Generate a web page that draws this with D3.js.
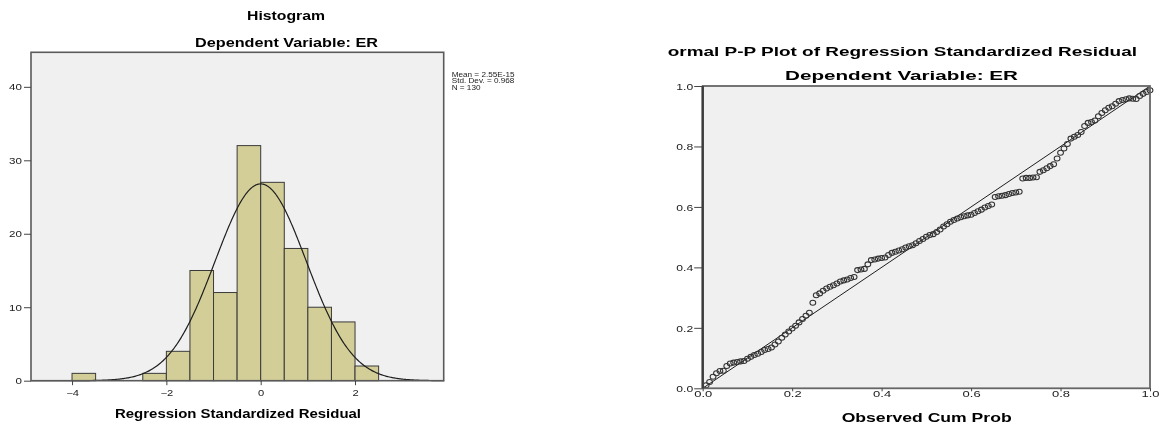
<!DOCTYPE html>
<html>
<head>
<meta charset="utf-8">
<script src="https://cdn.jsdelivr.net/npm/d3@7"></script>
<style>
  html, body { margin: 0; padding: 0; background: #fff; }
  svg { display: block; font-family: "Liberation Sans", Arial, sans-serif; will-change: transform; }
  svg text { opacity: 0.995; }
</style>
</head>
<body>
<svg id="chart" width="1160" height="430"></svg>
<script>
// ---------------- DATA ----------------
const histTitle = "Histogram";
const subTitle = "Dependent Variable: ER";
const histXLabel = "Regression Standardized Residual";
const binLow  = [-4.0, -2.5, -2.0, -1.5, -1.0, -0.5, 0.0, 0.5, 1.0, 1.5, 2.0];
const binHigh = [-3.5, -2.0, -1.5, -1.0, -0.5, 0.0, 0.5, 1.0, 1.5, 2.0, 2.5];
const binCounts = [1, 1, 4, 15, 12, 32, 27, 18, 10, 8, 2];
const histXTicks = [-4, -2, 0, 2];
const histYTicks = [0, 10, 20, 30, 40];
const statLines = ["Mean = 2.55E-15", "Std. Dev. = 0.968", "N = 130"];
const residMean = 2.55e-15, residSD = 0.968, residN = 130, binWidth = 0.5;

const ppTitle = "Normal P-P Plot of Regression Standardized Residual";
const ppXLabel = "Observed Cum Prob";
const ppTicks = [0.0, 0.2, 0.4, 0.6, 0.8, 1.0];
const observedCumProb = [
  0.0077,0.0154,0.0231,0.0308,0.0385,0.0462,0.0538,0.0615,0.0692,0.0769,
  0.0846,0.0923,0.1000,0.1077,0.1154,0.1231,0.1308,0.1385,0.1462,0.1538,
  0.1615,0.1692,0.1769,0.1846,0.1923,0.2000,0.2077,0.2154,0.2231,0.2308,
  0.2385,0.2462,0.2538,0.2615,0.2692,0.2769,0.2846,0.2923,0.3000,0.3077,
  0.3154,0.3231,0.3308,0.3385,0.3462,0.3538,0.3615,0.3692,0.3769,0.3846,
  0.3923,0.4000,0.4077,0.4154,0.4231,0.4308,0.4385,0.4462,0.4538,0.4615,
  0.4692,0.4769,0.4846,0.4923,0.5000,0.5077,0.5154,0.5231,0.5308,0.5385,
  0.5462,0.5538,0.5615,0.5692,0.5769,0.5846,0.5923,0.6000,0.6077,0.6154,
  0.6231,0.6308,0.6385,0.6462,0.6538,0.6615,0.6692,0.6769,0.6846,0.6923,
  0.7000,0.7077,0.7154,0.7231,0.7308,0.7385,0.7462,0.7538,0.7615,0.7692,
  0.7769,0.7846,0.7923,0.8000,0.8077,0.8154,0.8231,0.8308,0.8385,0.8462,
  0.8538,0.8615,0.8692,0.8769,0.8846,0.8923,0.9000,0.9077,0.9154,0.9231,
  0.9308,0.9385,0.9462,0.9538,0.9615,0.9692,0.9769,0.9846,0.9923,1.0000
];
const expectedCumProb = [
  0.010,0.021,0.038,0.050,0.057,0.058,0.074,0.082,0.085,0.087,
  0.089,0.090,0.098,0.104,0.110,0.114,0.120,0.127,0.130,0.135,
  0.145,0.155,0.167,0.178,0.188,0.198,0.207,0.218,0.229,0.240,
  0.250,0.283,0.308,0.314,0.323,0.330,0.336,0.341,0.347,0.353,
  0.357,0.360,0.365,0.368,0.391,0.393,0.395,0.410,0.424,0.426,
  0.429,0.431,0.433,0.441,0.448,0.452,0.456,0.460,0.466,0.470,
  0.473,0.480,0.487,0.494,0.501,0.507,0.510,0.517,0.525,0.535,
  0.543,0.551,0.557,0.562,0.566,0.569,0.572,0.574,0.580,0.586,
  0.591,0.598,0.603,0.608,0.633,0.635,0.637,0.639,0.643,0.646,
  0.648,0.650,0.694,0.696,0.696,0.697,0.698,0.716,0.721,0.728,
  0.735,0.741,0.760,0.779,0.793,0.808,0.826,0.832,0.838,0.848,
  0.868,0.878,0.881,0.886,0.900,0.911,0.920,0.928,0.933,0.941,
  0.950,0.954,0.956,0.959,0.958,0.957,0.967,0.974,0.980,0.986
];

// ---------------- HELPERS ----------------
const svg = d3.select("#chart");
svg.append("rect").attr("width", 1160).attr("height", 430).attr("fill", "#fff");
function stretch(sel, k) {
  sel.each(function () {
    const w = this.getComputedTextLength();
    d3.select(this).attr("textLength", w * k).attr("lengthAdjust", "spacingAndGlyphs");
  });
}
function fixLen(sel, len) {
  sel.attr("textLength", len).attr("lengthAdjust", "spacingAndGlyphs");
}
const bg = "#f0f0f0";
const FONT = "'Liberation Sans', Arial, sans-serif";

// ---------------- HISTOGRAM ----------------
const H = { left: 31, right: 443.7, top: 52.3, bottom: 380.7 };
const hx = d3.scaleLinear().domain([-4.87, 3.88]).range([H.left, H.right]);
const hy = d3.scaleLinear().domain([0, 44.7]).range([H.bottom, H.top]);

svg.append("rect").attr("x", H.left).attr("y", H.top)
  .attr("width", H.right - H.left).attr("height", H.bottom - H.top)
  .attr("fill", bg);

svg.append("g").selectAll("rect.bar").data(binCounts).join("rect")
  .attr("class", "bar")
  .attr("x", (d, i) => hx(binLow[i]))
  .attr("y", d => hy(d))
  .attr("width", (d, i) => hx(binHigh[i]) - hx(binLow[i]))
  .attr("height", d => hy(0) - hy(d))
  .attr("fill", "#d3ce98")
  .attr("stroke", "#3a3a3a")
  .attr("stroke-width", 1);

// fitted normal curve
const curveX = d3.range(-4.87, 3.9, 0.02);
const normY = x => residN * binWidth / (residSD * Math.sqrt(2 * Math.PI)) *
  Math.exp(-0.5 * Math.pow((x - residMean) / residSD, 2));
svg.append("path")
  .attr("d", d3.line().x(d => hx(d)).y(d => hy(normY(d)))(curveX))
  .attr("fill", "none").attr("stroke", "#1e1e1e").attr("stroke-width", 1.2);

// frame
svg.append("rect").attr("x", H.left).attr("y", H.top)
  .attr("width", H.right - H.left).attr("height", H.bottom - H.top)
  .attr("fill", "none").attr("stroke", "#5a5a5a").attr("stroke-width", 1.6);

// axes
const hyAxis = svg.append("g").attr("transform", `translate(${H.left},0)`)
  .call(d3.axisLeft(hy).tickValues(histYTicks).tickSize(7).tickPadding(2).tickFormat(d3.format("d")));
hyAxis.select(".domain").remove();
hyAxis.selectAll("line").attr("stroke", "#444");
hyAxis.selectAll("text").attr("font-size", 8.6).attr("fill", "#222").attr("dy", "0.36em")
  .attr("font-family", FONT).call(stretch, 1.35);

const hxAxis = svg.append("g").attr("transform", `translate(0,${H.bottom})`)
  .call(d3.axisBottom(hx).tickValues(histXTicks).tickSize(4.5).tickPadding(2).tickFormat(d3.format("d")));
hxAxis.select(".domain").remove();
hxAxis.selectAll("line").attr("stroke", "#444");
hxAxis.selectAll("text").attr("font-size", 8.6).attr("fill", "#222").attr("dy", 0).attr("y", 15.5)
  .attr("font-family", FONT).call(stretch, 1.3);

// titles
svg.append("text").text(histTitle).attr("x", 286).attr("y", 20)
  .attr("text-anchor", "middle").attr("font-weight", "bold").attr("font-size", 13)
  .call(fixLen, 78);
svg.append("text").text(subTitle).attr("x", 286.5).attr("y", 47)
  .attr("text-anchor", "middle").attr("font-weight", "bold").attr("font-size", 13)
  .call(fixLen, 183);
svg.append("text").text(histXLabel).attr("x", 238).attr("y", 418)
  .attr("text-anchor", "middle").attr("font-weight", "bold").attr("font-size", 13)
  .call(fixLen, 246);

// stats legend
svg.append("g").selectAll("text").data(statLines).join("text")
  .text(d => d).attr("x", 451.7).attr("y", (d, i) => 76.5 + i * 6.6)
  .attr("font-size", 6.8).attr("fill", "#222")
  .call(stretch, 1.2);

// ---------------- P-P PLOT ----------------
const P = { left: 702.7, right: 1150, top: 86, bottom: 388.3 };
const px = d3.scaleLinear().domain([0, 1]).range([P.left, P.right]);
const py = d3.scaleLinear().domain([0, 1]).range([P.bottom, P.top]);

svg.append("rect").attr("x", P.left).attr("y", P.top)
  .attr("width", P.right - P.left).attr("height", P.bottom - P.top)
  .attr("fill", bg);

// diagonal reference line
svg.append("line")
  .attr("x1", px(0)).attr("y1", py(0)).attr("x2", px(1)).attr("y2", py(1))
  .attr("stroke", "#1e1e1e").attr("stroke-width", 1);

// points
svg.append("g").selectAll("ellipse").data(expectedCumProb).join("ellipse")
  .attr("cx", (d, i) => px(observedCumProb[i]))
  .attr("cy", d => py(d))
  .attr("rx", 2.9).attr("ry", 2.5)
  .attr("fill", "none").attr("stroke", "#333").attr("stroke-width", 1.05);

// frame
svg.append("rect").attr("x", P.left).attr("y", P.top)
  .attr("width", P.right - P.left).attr("height", P.bottom - P.top)
  .attr("fill", "none").attr("stroke", "#666").attr("stroke-width", 1.8);
svg.append("line").attr("x1", P.left).attr("x2", P.left).attr("y1", P.top).attr("y2", P.bottom)
  .attr("stroke", "#3c3c3c").attr("stroke-width", 2.4);

const pyAxis = svg.append("g").attr("transform", `translate(${P.left},0)`)
  .call(d3.axisLeft(py).tickValues(ppTicks).tickSize(8.5).tickPadding(1).tickFormat(d3.format(".1f")));
pyAxis.select(".domain").remove();
pyAxis.selectAll("line").attr("stroke", "#444");
pyAxis.selectAll("text").attr("font-size", 8.4).attr("fill", "#222").attr("dy", "0.4em")
  .attr("font-family", FONT).call(stretch, 1.45);

const pxAxis = svg.append("g").attr("transform", `translate(0,${P.bottom})`)
  .call(d3.axisBottom(px).tickValues(ppTicks).tickSize(3).tickPadding(1).tickFormat(d3.format(".1f")));
pxAxis.select(".domain").remove();
pxAxis.selectAll("line").attr("stroke", "#444");
pxAxis.selectAll("text").attr("font-size", 8.4).attr("fill", "#222").attr("dy", 0).attr("y", 8.8)
  .attr("font-family", FONT).call(stretch, 1.55);

// titles (left edge of the main title is cut off as in the source)
svg.append("clipPath").attr("id", "ppclip").append("rect")
  .attr("x", 667).attr("y", 0).attr("width", 493).attr("height", 430);
svg.append("text").text(ppTitle).attr("x", 1137).attr("y", 56)
  .attr("clip-path", "url(#ppclip)")
  .attr("text-anchor", "end").attr("font-weight", "bold").attr("font-size", 13)
  .call(fixLen, 483);
svg.append("text").text(subTitle).attr("x", 901.5).attr("y", 80)
  .attr("text-anchor", "middle").attr("font-weight", "bold").attr("font-size", 13)
  .call(fixLen, 233);
svg.append("text").text(ppXLabel).attr("x", 926.7).attr("y", 421.5)
  .attr("text-anchor", "middle").attr("font-weight", "bold").attr("font-size", 12.5)
  .call(fixLen, 170);
</script>
</body>
</html>
